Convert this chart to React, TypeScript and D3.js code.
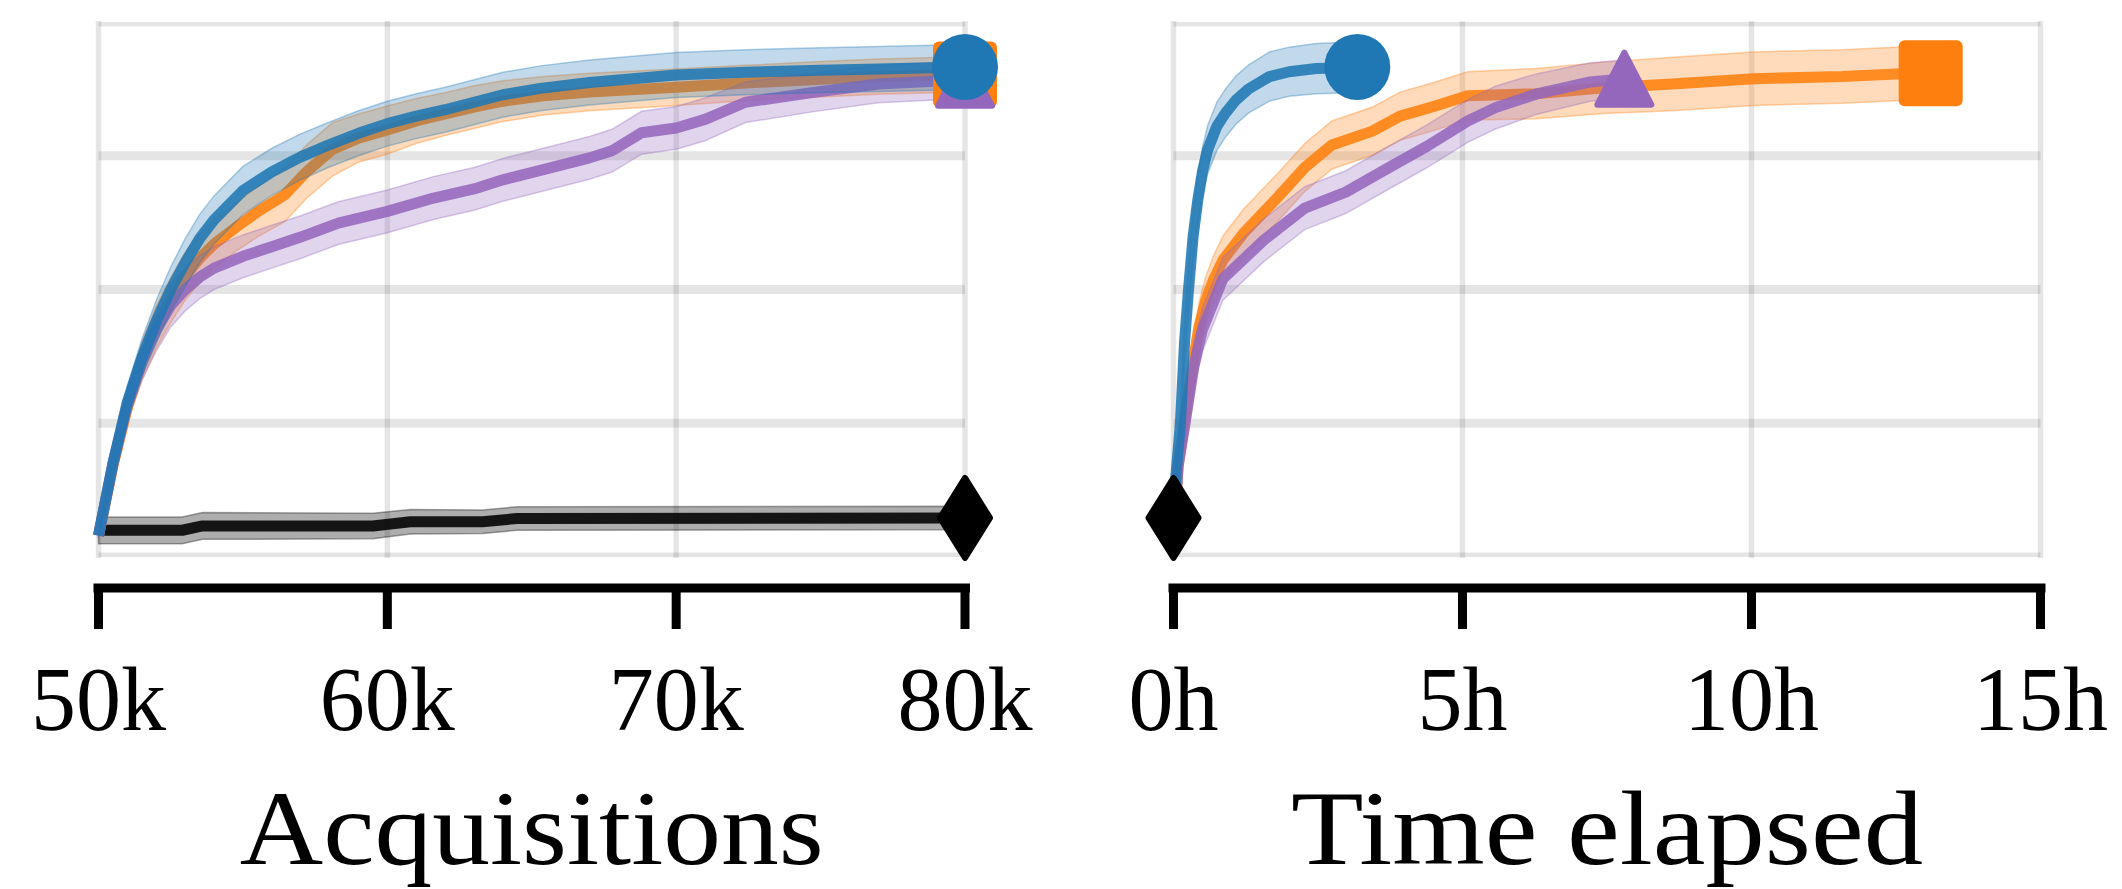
import React from 'react';
import * as d3 from 'd3';

type Pt = [number, number, number]; // [x, mean, half-width of band]

// ---------- ticks ----------
const acqTicks = [50, 60, 70, 80];
const acqTickLabels = ['50k', '60k', '70k', '80k'];
const timeTicks = [0, 5, 10, 15];
const timeTickLabels = ['0h', '5h', '10h', '15h'];
const yGridValues = [0, 0.25, 0.5, 0.75, 1];

// ---------- left panel: vs acquisitions (k) ----------
const acqBlack: Pt[] = [
  [50, 0.05, 0.025], [52.9, 0.05, 0.025], [53.6, 0.058, 0.025], [59.5, 0.058, 0.024],
  [60.8, 0.066, 0.023], [63.3, 0.066, 0.022], [64.5, 0.072, 0.022], [80, 0.073, 0.022],
];
const acqOrange: Pt[] = [
  [50, 0.04, 0.005], [50.5, 0.17, 0.02], [51, 0.28, 0.03], [51.5, 0.365, 0.035], [52, 0.43, 0.04],
  [52.5, 0.48, 0.042], [53, 0.525, 0.045], [53.5, 0.558, 0.045], [54, 0.585, 0.045], [54.8, 0.618, 0.045],
  [55.5, 0.645, 0.047], [56.45, 0.677, 0.05], [57.2, 0.72, 0.05], [58.1, 0.762, 0.05], [59, 0.783, 0.045],
  [60, 0.798, 0.045], [61, 0.815, 0.042], [62, 0.828, 0.04], [63, 0.841, 0.04], [64, 0.852, 0.038],
  [65.4, 0.862, 0.036], [67, 0.869, 0.035], [70, 0.878, 0.034], [72.4, 0.886, 0.033], [75, 0.893, 0.033],
  [77, 0.898, 0.033], [80, 0.902, 0.033],
];
const acqPurple: Pt[] = [
  [50, 0.04, 0.005], [50.5, 0.175, 0.02], [51, 0.285, 0.03], [51.5, 0.365, 0.035], [52, 0.425, 0.04],
  [52.5, 0.47, 0.04], [53, 0.5, 0.04], [53.5, 0.523, 0.04], [54, 0.54, 0.04], [55, 0.562, 0.04],
  [56, 0.58, 0.04], [57, 0.598, 0.04], [58.3, 0.624, 0.04], [60, 0.646, 0.04], [61.6, 0.671, 0.04],
  [63, 0.688, 0.04], [64, 0.705, 0.04], [65.4, 0.724, 0.04], [67, 0.746, 0.04], [67.8, 0.76, 0.04],
  [68.8, 0.793, 0.04], [70, 0.802, 0.04], [71, 0.818, 0.04], [72.4, 0.85, 0.038], [74.7, 0.868, 0.036],
  [77, 0.884, 0.035], [80, 0.892, 0.035],
];
const acqBlue: Pt[] = [
  [50, 0.04, 0.005], [50.5, 0.175, 0.02], [51, 0.29, 0.03], [51.5, 0.372, 0.035], [52, 0.44, 0.04],
  [52.5, 0.5, 0.042], [53, 0.55, 0.045], [53.5, 0.595, 0.045], [54, 0.63, 0.045], [55, 0.685, 0.045],
  [56, 0.72, 0.044], [57, 0.748, 0.043], [58, 0.771, 0.042], [59, 0.792, 0.042], [60, 0.81, 0.042],
  [61, 0.824, 0.042], [62, 0.836, 0.042], [63, 0.85, 0.042], [64, 0.864, 0.042], [65.3, 0.876, 0.042],
  [67, 0.887, 0.042], [70, 0.901, 0.042], [72.4, 0.906, 0.042], [75, 0.91, 0.042], [77, 0.912, 0.042],
  [80, 0.916, 0.042],
];

// ---------- right panel: vs time elapsed (h) ----------
const timeBlack: Pt[] = [[0, 0.073, 0]];
const timeOrange: Pt[] = [
  [0, 0.04, 0.005], [0.08, 0.17, 0.02], [0.2, 0.26, 0.03], [0.32, 0.35, 0.04], [0.44, 0.43, 0.045],
  [0.56, 0.48, 0.045], [0.7, 0.52, 0.045], [0.855, 0.555, 0.045], [1.21, 0.605, 0.045], [1.8, 0.672, 0.045],
  [2.27, 0.728, 0.045], [2.74, 0.77, 0.045], [3.44, 0.796, 0.045], [3.92, 0.824, 0.045], [4.5, 0.842, 0.045],
  [5.09, 0.862, 0.045], [6.27, 0.866, 0.047], [7.45, 0.877, 0.048], [8.63, 0.884, 0.05], [10.04, 0.894, 0.05],
  [11.57, 0.898, 0.05], [12.5, 0.903, 0.05], [13.1, 0.904, 0.05],
];
const timePurple: Pt[] = [
  [0, 0.04, 0.005], [0.08, 0.17, 0.02], [0.2, 0.25, 0.03], [0.35, 0.355, 0.04], [0.5, 0.425, 0.04],
  [0.855, 0.52, 0.04], [1.56, 0.592, 0.04], [2.27, 0.652, 0.04], [2.98, 0.682, 0.04], [3.68, 0.725, 0.04],
  [4.39, 0.768, 0.04], [5.09, 0.815, 0.04], [5.57, 0.84, 0.04], [6.27, 0.865, 0.038], [7.21, 0.888, 0.036],
  [7.8, 0.894, 0.035],
];
const timeBlue: Pt[] = [
  [0, 0.04, 0.005], [0.04, 0.15, 0.015], [0.12, 0.25, 0.025], [0.19, 0.4, 0.035], [0.26, 0.5, 0.04],
  [0.34, 0.6, 0.045], [0.42, 0.667, 0.045], [0.5, 0.72, 0.045], [0.59, 0.761, 0.045], [0.75, 0.805, 0.045],
  [0.9, 0.83, 0.045], [1.08, 0.854, 0.045], [1.3, 0.875, 0.045], [1.66, 0.898, 0.046], [2.0, 0.907, 0.046],
  [2.47, 0.913, 0.047], [2.8, 0.914, 0.047], [3.18, 0.916, 0.047],
];

const BLUE = '#1f77b4';
const ORANGE = '#ff7f0e';
const PURPLE = '#9467bd';
const BLACK = '#000000';

type MarkerKind = 'circle' | 'square' | 'triangle' | 'diamond';
interface Series { data: Pt[]; color: string; marker: MarkerKind; bandOpacity: number }

const leftSeries: Series[] = [
  { data: acqBlack, color: BLACK, marker: 'diamond', bandOpacity: 0.32 },
  { data: acqOrange, color: ORANGE, marker: 'square', bandOpacity: 0.28 },
  { data: acqPurple, color: PURPLE, marker: 'triangle', bandOpacity: 0.28 },
  { data: acqBlue, color: BLUE, marker: 'circle', bandOpacity: 0.28 },
];
const rightSeries: Series[] = [
  { data: timeBlack, color: BLACK, marker: 'diamond', bandOpacity: 0.32 },
  { data: timeOrange, color: ORANGE, marker: 'square', bandOpacity: 0.28 },
  { data: timePurple, color: PURPLE, marker: 'triangle', bandOpacity: 0.28 },
  { data: timeBlue, color: BLUE, marker: 'circle', bandOpacity: 0.28 },
];

const W = 2122;
const H = 889;
const PLOT_TOP = 22;
const PLOT_BOTTOM = 557;
const SPINE_Y = 588;
const TICK_END = 629;
const FONT = '"Liberation Serif", "DejaVu Serif", serif';

const yScale = d3.scaleLinear().domain([0, 1]).range([PLOT_BOTTOM, PLOT_TOP]);

function Marker({ kind, x, y, color }: { kind: MarkerKind; x: number; y: number; color: string }) {
  if (kind === 'circle') return <circle cx={x} cy={y} r={33} fill={color} />;
  if (kind === 'square')
    return <rect x={x - 32} y={y - 33} width={64} height={66} rx={6} fill={color} />;
  if (kind === 'triangle') {
    const w = 27, h = 26;
    return (
      <path d={`M${x},${y - h} L${x + w},${y + h} L${x - w},${y + h} Z`} fill={color}
        stroke={color} strokeWidth={6} strokeLinejoin="round" />
    );
  }
  const w = 25, h = 40;
  return (
    <path d={`M${x},${y - h} L${x + w},${y} L${x},${y + h} L${x - w},${y} Z`} fill={color}
      stroke={color} strokeWidth={6} strokeLinejoin="round" />
  );
}

function Panel({ id, domain, range, ticks, tickLabels, title, titleWidth, series }: {
  id: string; domain: [number, number]; range: [number, number]; ticks: number[];
  tickLabels: string[]; title: string; titleWidth: number; series: Series[];
}) {
  const x = d3.scaleLinear().domain(domain).range(range);
  const line = d3.line<Pt>().x(d => x(d[0])).y(d => yScale(d[1])).curve(d3.curveLinear);
  const area = d3.area<Pt>().x(d => x(d[0])).y0(d => yScale(d[1] - d[2])).y1(d => yScale(d[1] + d[2]));
  const [x0, x1] = range;
  return (
    <g>
      <defs>
        <clipPath id={`clip-${id}`}>
          <rect x={x0 - 4} y={PLOT_TOP} width={x1 - x0 + 8} height={PLOT_BOTTOM - PLOT_TOP} />
        </clipPath>
      </defs>
      {/* grid */}
      <g clipPath={`url(#clip-${id})`}>
        {yGridValues.map(v => (
          <line key={v} x1={x0} x2={x1} y1={yScale(v)} y2={yScale(v)} stroke="#000" strokeOpacity={0.1} strokeWidth={9} />
        ))}
      </g>
      {ticks.map(t => (
        <line key={t} x1={x(t)} x2={x(t)} y1={PLOT_TOP - 1} y2={PLOT_BOTTOM + 1} stroke="#000" strokeOpacity={0.1} strokeWidth={5.5} />
      ))}
      {/* bands & lines */}
      {series.map((s, i) => (
        <g key={i}>
          {s.data.length > 1 && (
            <path d={area(s.data) || ''} fill={s.color} fillOpacity={s.bandOpacity} stroke={s.color} strokeOpacity={0.35} strokeWidth={1.5} />
          )}
          {s.data.length > 1 && (
            <path d={line(s.data) || ''} fill="none" stroke={s.color} strokeOpacity={0.88} strokeWidth={11} strokeLinejoin="round" strokeLinecap="butt" />
          )}
        </g>
      ))}
      {/* end markers */}
      {series.map((s, i) => {
        const last = s.data[s.data.length - 1];
        return <Marker key={i} kind={s.marker} x={x(last[0])} y={yScale(last[1])} color={s.color} />;
      })}
      {/* bottom spine & ticks */}
      <line x1={x0 - 5} x2={x1 + 5} y1={SPINE_Y} y2={SPINE_Y} stroke="#000" strokeWidth={9} />
      {ticks.map(t => (
        <line key={t} x1={x(t)} x2={x(t)} y1={SPINE_Y} y2={TICK_END} stroke="#000" strokeWidth={9} />
      ))}
      {ticks.map((t, i) => (
        <text key={t} x={x(t)} y={730} textAnchor="middle" fontFamily={FONT} fontSize={90} fill="#000">
          {tickLabels[i]}
        </text>
      ))}
      <text x={(x0 + x1) / 2} y={864} textAnchor="middle" fontFamily={FONT} fontSize={106} fill="#000"
        textLength={titleWidth} lengthAdjust="spacingAndGlyphs">
        {title}
      </text>
    </g>
  );
}

export default function App() {
  return (
    <svg width={W} height={H} viewBox={`0 0 ${W} ${H}`}
      style={{ position: 'absolute', left: 0, top: 0, background: '#fff' }}>
      <rect width={W} height={H} fill="#fff" />
      <Panel id="acq" domain={[50, 80]} range={[98.5, 965]} ticks={acqTicks} tickLabels={acqTickLabels}
        title="Acquisitions" titleWidth={584} series={leftSeries} />
      <Panel id="time" domain={[0, 15]} range={[1173.5, 2040.5]} ticks={timeTicks} tickLabels={timeTickLabels}
        title="Time elapsed" titleWidth={632} series={rightSeries} />
    </svg>
  );
}
